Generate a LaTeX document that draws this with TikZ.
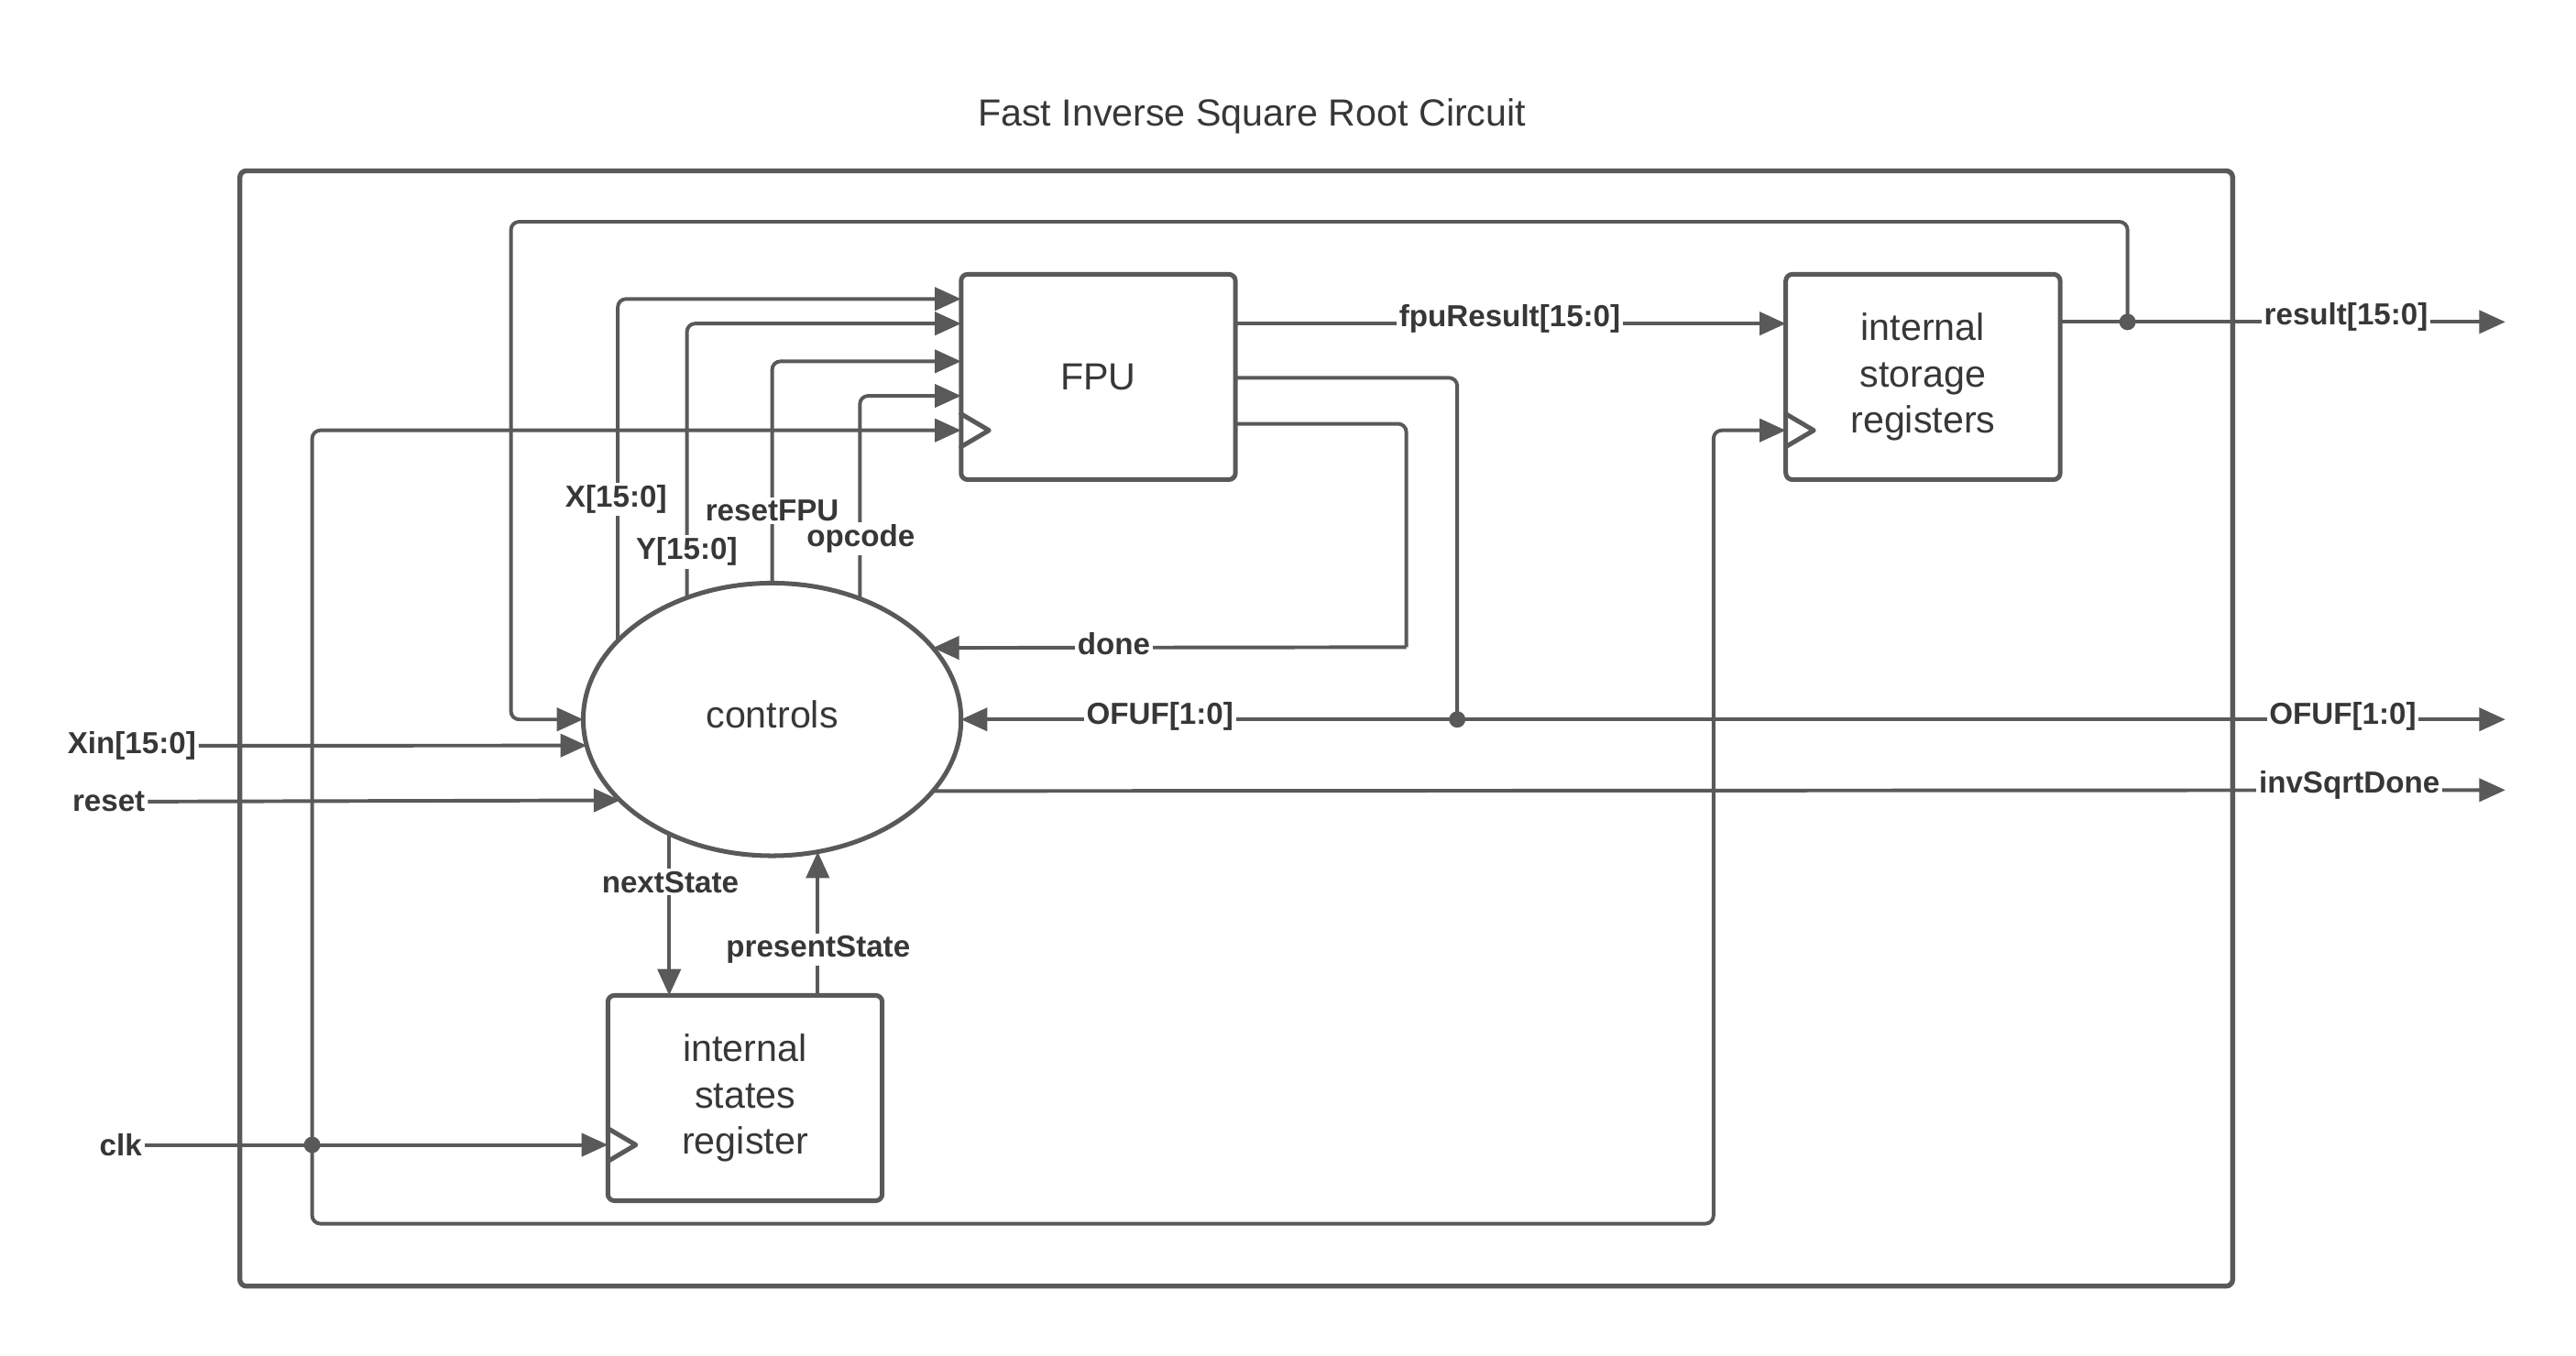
\documentclass[tikz,border=0pt]{standalone}
\usepackage{fontspec}
\setmainfont{Liberation Sans}
\usetikzlibrary{shapes.geometric,arrows.meta,calc}
\definecolor{ink}{RGB}{89,89,89}
\definecolor{txt}{RGB}{55,55,55}
\begin{document}
\begin{tikzpicture}[x=1pt,y=-1pt,
  blk/.style={draw=ink, line width=2.8, rounded corners=4, minimum width=167, minimum height=125, inner sep=0, outer sep=0, align=center, text=txt, font=\fontsize{23}{28}\selectfont},
  wire/.style={draw=ink, line width=2.2, rounded corners=5},
  arr/.style={wire, -{Triangle[length=16pt,width=14pt]}},
  lbl/.style={fill=white, text=txt, inner sep=1.5pt, font=\fontsize{18.5}{22}\selectfont\bfseries},
  clkmark/.style={draw=ink, line width=2.8, line join=round, line cap=round},
  dot/.style={fill=ink}
]
\useasboundingbox (0,0) rectangle (1568,825);

\node[text=txt, font=\fontsize{23}{28}\selectfont] (title) at (762,71) {Fast Inverse Square Root Circuit};
\node[draw=ink, line width=3, rounded corners=4, minimum width=1213, minimum height=679, inner sep=0] (outer) at (752.5,443.5) {};

\node[blk] (fpu) at (668.5,229.5) {FPU};
\node[blk] (isr) at (1170.5,229.5) {internal\\storage\\registers};
\node[blk] (isreg) at (453.5,668.5) {internal\\states\\register};
\node[draw=ink, line width=2.8, ellipse, minimum width=230, minimum height=166, inner sep=0, outer sep=0, text=txt, font=\fontsize{23}{28}\selectfont] (ctrl) at (470,438) {\raisebox{6pt}{controls}};

% clock marks
\draw[clkmark] ($(fpu.south west)+(0,-40)$) -- ($(fpu.south west)+(17,-30)$) -- ($(fpu.south west)+(0,-20)$);
\draw[clkmark] ($(isr.south west)+(0,-40)$) -- ($(isr.south west)+(17,-30)$) -- ($(isr.south west)+(0,-20)$);
\draw[clkmark] ($(isreg.south west)+(0,-44)$) -- ($(isreg.south west)+(17,-34)$) -- ($(isreg.south west)+(0,-24)$);

% coordinates
\coordinate (clkj) at (190,697);
\coordinate (bl) at (1043,745);
\coordinate (dn) at (856,394);
\coordinate (of) at (887,438);
\coordinate (rj) at (1295,196);
\coordinate (lp) at (311,135);
\coordinate (ofout) at (1525,438);
\coordinate (resout) at (1525,196);
\coordinate (invout) at (1525,481);

% controls -> FPU
\draw[arr] (ctrl.153.77) |- ($(fpu.north west)+(0,15)$);
\draw[arr] (ctrl.125.1) |- ($(fpu.north west)+(0,30)$);
\draw[arr] (ctrl.north) |- ($(fpu.north west)+(0,53)$);
\draw[arr] (ctrl.54.3) |- ($(fpu.north west)+(0,74)$);

% clocks
\draw[arr] (clkj) |- ($(fpu.south west)+(0,-30)$);
\draw[arr] (clkj) |- (bl) |- ($(isr.south west)+(0,-30)$);

% FPU outputs
\draw[arr] ($(fpu.north east)+(0,30)$) -- ($(isr.north west)+(0,30)$);
\draw[wire] ($(fpu.south east)+(0,-34)$) -| (dn);
\draw[arr] (dn) -- (ctrl.24.3);
\draw[wire] ($(fpu.north east)+(0,63)$) -| (of);
\draw[arr] (of) -- (ctrl.east);
\draw[arr] (of) -- (ofout);
\fill[dot] (of) circle (5);

% result
\draw[wire] ($(isr.north east)+(0,29)$) -- (rj);
\draw[arr] (rj) -- (resout);
\draw[arr] (rj) |- (lp) |- (ctrl.west);
\fill[dot] (rj) circle (5);

% invSqrtDone
\draw[arr] (ctrl.336.4) -- (invout);

% inputs
\node[lbl, anchor=east] (xin) at (121,454) {Xin[15:0]};
\node[lbl, anchor=east] (rst) at (90,488) {reset};
\node[lbl, anchor=east] (clk) at (88,697) {clk};
\draw[arr] (xin.east) -- (ctrl.188.05);
\draw[arr] (rst.east) -- (ctrl.208.6);
\draw[arr] (clk.east) -- ($(isreg.south west)+(0,-34)$);
\fill[dot] (clkj) circle (5);

% state
\draw[arr] (ctrl.228.5) -- (ctrl.228.5 |- isreg.north);
\draw[arr] (isreg.north -| ctrl.289.2) -- (ctrl.289.2);

% labels
\node[lbl] (lx) at (375,304) {X[15:0]};
\node[lbl] (ly) at (418,336) {Y[15:0]};
\node[lbl] (lr) at (470,311) {resetFPU};
\node[lbl] (lo) at (524,328) {opcode};
\node[lbl] (lf) at (919,194) {fpuResult[15:0]};
\node[lbl] (ld) at (678,392) {done};
\node[lbl] (lof1) at (706,436) {OFUF[1:0]};
\node[lbl] (lof2) at (1426,436) {OFUF[1:0]};
\node[lbl] (lres) at (1428,193) {result[15:0]};
\node[lbl] (linv) at (1430,478) {invSqrtDone};
\node[lbl] (lns) at (408,537) {nextState};
\node[lbl] (lps) at (498,578) {presentState};
\end{tikzpicture}
\end{document}
